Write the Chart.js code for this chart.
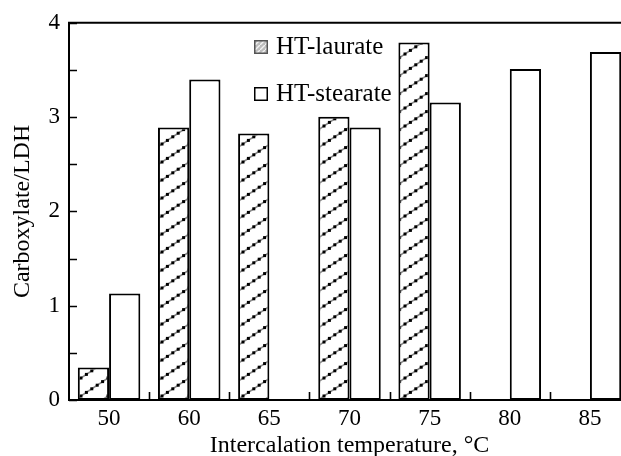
<!DOCTYPE html>
<html>
<head>
<meta charset="utf-8">
<script src="https://cdn.jsdelivr.net/npm/chart.js@4.4.1/dist/chart.umd.min.js"></script>
<style>
  html, body { margin: 0; padding: 0; overflow: hidden; background: #fff; }
  #wrap { width: 640px; height: 456px; }
</style>
</head>
<body>
<div id="wrap"><canvas id="carboxylateChart" width="640" height="456"></canvas></div>
<script>
// intercalation temperatures, degrees C
var temperatures = ['50', '60', '65', '70', '75', '80', '85'];
// carboxylate per LDH
var laurateValues = [0.345, 2.89, 2.825, 3.005, 3.79, null, null];
var stearateValues = [1.13, 3.40, null, 2.89, 3.155, 3.51, 3.69];
var seriesLabels = ['HT-laurate', 'HT-stearate'];

var serif = "'Liberation Serif', 'Times New Roman', serif";

// white fill with diagonal rows of black dots
function dottedHatch(ctx) {
    var c = document.createElement('canvas');
    c.width = 27; c.height = 18;
    var g = c.getContext('2d');
    g.fillStyle = '#fff';
    g.fillRect(0, 0, 27, 18);
    g.strokeStyle = '#8a8a8a';
    g.lineWidth = 1.6;
    g.beginPath();
    g.moveTo(-3, 20);
    g.lineTo(30, -2);
    g.stroke();
    g.fillStyle = '#000';
    var pts = [[0, 0], [27, 0], [0, 18], [27, 18], [5.4, 14.4], [10.8, 10.8], [16.2, 7.2], [21.6, 3.6]];
    pts.forEach(function (p) { g.fillRect(p[0] - 1.5, p[1] - 1.5, 3, 3); });
    return ctx.createPattern(c, 'repeat');
}

// grey slanted hatch used for the legend swatch
function greyHatch(ctx) {
    var c = document.createElement('canvas');
    c.width = 5; c.height = 5;
    var g = c.getContext('2d');
    g.fillStyle = '#bdbdbd';
    g.fillRect(0, 0, 5, 5);
    g.strokeStyle = '#f2f2f2';
    g.lineWidth = 1.4;
    g.beginPath();
    g.moveTo(-1, 6); g.lineTo(6, -1);
    g.stroke();
    return ctx.createPattern(c, 'repeat');
}

// inward tick marks and the top frame line
var frameTicks = {
    id: 'frameTicks',
    afterDraw: function (chart) {
        var ctx = chart.ctx;
        var area = chart.chartArea;
        var x = chart.scales.x, y = chart.scales.y;
        ctx.save();
        ctx.strokeStyle = '#000';
        ctx.lineWidth = 2;
        ctx.beginPath();
        ctx.moveTo(area.left - 1, area.top);
        ctx.lineTo(area.right, area.top);
        ctx.stroke();
        ctx.lineWidth = 1.6;
        ctx.beginPath();
        y.ticks.forEach(function (t) {
            var py = Math.round(y.getPixelForValue(t.value)) + 0.5;
            ctx.moveTo(area.left, py);
            ctx.lineTo(area.left + 8, py);
        });
        for (var i = 0; i < temperatures.length - 1; i++) {
            var px = Math.round((x.getPixelForValue(i) + x.getPixelForValue(i + 1)) / 2) + 0.5;
            ctx.moveTo(px, area.bottom);
            ctx.lineTo(px, area.bottom - 8);
        }
        ctx.stroke();
        ctx.restore();
    }
};

// legend placed inside the plot
var insetLegend = {
    id: 'insetLegend',
    afterDraw: function (chart) {
        var ctx = chart.ctx;
        var bx = 254, by = 40, gap = 47;
        ctx.save();
        ctx.font = '25px ' + serif;
        ctx.textBaseline = 'middle';
        chart.data.datasets.forEach(function (ds, i) {
            var top = by + i * gap;
            ctx.fillStyle = i === 0 ? greyHatch(ctx) : '#fff';
            ctx.fillRect(bx, top, 14, 14);
            ctx.strokeStyle = i === 0 ? '#555' : '#000';
            ctx.lineWidth = 1.5;
            ctx.strokeRect(bx + 0.75, top + 0.75, 12.5, 12.5);
            ctx.fillStyle = '#000';
            ctx.fillText(ds.label, bx + 22, top + 7);
        });
        ctx.restore();
    }
};

var ctx = document.getElementById('carboxylateChart').getContext('2d');

var chart = new Chart(ctx, {
    type: 'bar',
    data: {
        labels: temperatures,
        datasets: [
            {
                label: seriesLabels[0],
                data: laurateValues,
                backgroundColor: dottedHatch(ctx),
                borderColor: '#000',
                borderWidth: 2,
                borderSkipped: false
            },
            {
                label: seriesLabels[1],
                data: stearateValues,
                backgroundColor: '#fff',
                borderColor: '#000',
                borderWidth: 2,
                borderSkipped: false
            }
        ]
    },
    options: {
        responsive: false,
        animation: false,
        layout: { padding: { top: 21, right: 10, left: 0, bottom: 0 } },
        datasets: { bar: { categoryPercentage: 0.78, barPercentage: 1.0 } },
        plugins: {
            legend: { display: false },
            tooltip: { enabled: false }
        },
        scales: {
            x: {
                grid: { display: false, drawTicks: false },
                border: { display: true, color: '#000', width: 2 },
                ticks: { color: '#000', font: { family: serif, size: 23 }, padding: 5 },
                title: {
                    display: true,
                    text: 'Intercalation temperature, °C',
                    color: '#000',
                    font: { family: serif, size: 24 },
                    padding: { top: 0, bottom: -4 }
                },
                afterFit: function (scale) { scale.height = 56; }
            },
            y: {
                min: 0,
                max: 4,
                grid: { display: false, drawTicks: false },
                border: { display: true, color: '#000', width: 2 },
                ticks: {
                    stepSize: 0.5,
                    color: '#000',
                    font: { family: serif, size: 23 },
                    padding: 9,
                    callback: function (v) { return Number.isInteger(v) ? v : ''; }
                },
                title: {
                    display: true,
                    text: 'Carboxylate/LDH',
                    color: '#000',
                    font: { family: serif, size: 24 },
                    padding: { top: 8, bottom: 0 }
                },
                afterFit: function (scale) { scale.width = 69; }
            }
        }
    },
    plugins: [frameTicks, insetLegend]
});
</script>
</body>
</html>
